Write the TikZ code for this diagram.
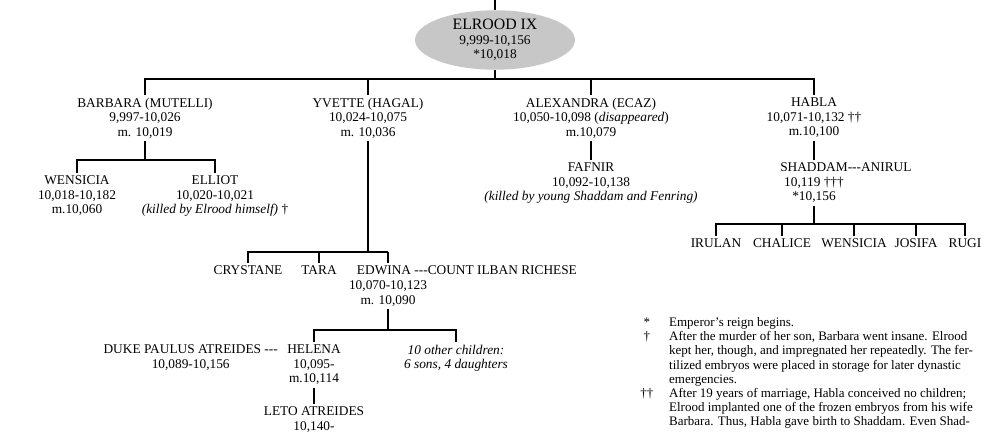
\documentclass[tikz,border=0pt]{standalone}
\usepackage{fontspec}
\setmainfont{Liberation Serif}
\usepackage{tikz}
\usetikzlibrary{shapes.geometric, positioning, calc}

\begin{document}
\begin{tikzpicture}[x=0.02cm, y=-0.02cm,
  person/.style={align=center, anchor=north, inner sep=1.5pt, font=\fontsize{7.6}{8.25}\selectfont},
  emperor/.style={ellipse, fill=black!22, align=center, minimum width=3.2cm, minimum height=1.1cm, inner sep=0pt, font=\fontsize{7.6}{8.4}\selectfont},
  bond/.style={line width=1.6pt},
  link/.style={line width=0.8pt}
]
  \path[use as bounding box, fill=white] (0,0) rectangle (984,445);

  % emperor
  \coordinate (crown) at (495,0);
  \node[emperor] (elrood) at (495,40) {{\fontsize{9}{9}\selectfont ELROOD IX}\\9,999-10,156\\*10,018};
  \draw[bond] (crown) -- (elrood);

  % wives
  \node[person] (barbara) at (145,95) {BARBARA (MUTELLI)\\9,997-10,026\\m. 10,019};
  \node[person] (yvette) at (368,95) {YVETTE (HAGAL)\\10,024-10,075\\m. 10,036};
  \node[person] (alexandra) at (591,95) {ALEXANDRA (ECAZ)\\10,050-10,098 (\textit{disappeared})\\m.10,079};
  \node[person] (habla) at (814,95) {HABLA\\10,071-10,132 \textdagger\textdagger\\m.10,100};
  \coordinate (rowA) at (0,79);
  \draw[bond] (elrood) -- (elrood |- rowA);
  \draw[bond] (barbara.north) |- (habla.north |- rowA) -- (habla.north);
  \draw[bond] (yvette.north) -- (yvette.north |- rowA);
  \draw[link] (alexandra.north) -- (alexandra.north |- rowA);

  % Barbara
  \node[person] (wensicia) at (77,173) {WENSICIA\\10,018-10,182\\m.10,060};
  \node[person] (elliot) at (215,173) {ELLIOT\\10,020-10,021\\\textit{(killed by Elrood himself)} \textdagger};
  \coordinate (rowB) at (0,160);
  \draw[bond] (barbara) -- (barbara |- rowB);
  \draw[bond] (wensicia.north) |- (elliot.north |- rowB) -- (elliot.north);

  % Yvette
  \node[person] (crystane) at (248,263) {CRYSTANE};
  \node[person] (tara) at (319,263) {TARA};
  \node[person, anchor=north west] (edwina) at (354,263) {EDWINA -{}-{}-COUNT ILBAN RICHESE};
  \node[person] (edwinadates) at (388,278) {10,070-10,123\\m. 10,090};
  \coordinate (rowC) at (0,252);
  \draw[link] (yvette) -- (yvette |- rowC);
  \draw[bond] (crystane.north) |- (edwinadates.north |- rowC);
  \draw[link] (tara.north) -- (tara.north |- rowC);
  \draw[link] (edwinadates.north |- rowC) -- (edwinadates.north |- edwina.north);

  % Edwina
  \node[person] (helena) at (314,342) {HELENA\\10,095-\\m.10,114};
  \node[person, left=2pt of helena.north west, anchor=north east] (paulus) {DUKE PAULUS ATREIDES -{}-{}-\\10,089-10,156};
  \node[person, font=\fontsize{7.6}{8.25}\selectfont\itshape] (others) at (456,342) {10 other children:\\6 sons, 4 daughters};
  \coordinate (rowD) at (0,330);
  \draw[bond] (edwinadates) -- (edwinadates |- rowD);
  \draw[bond] (helena.north) |- (others.north |- rowD) -- (others.north);
  \node[person, below=0.32cm of helena] (leto) {LETO ATREIDES\\10,140-};
  \draw[bond] (helena) -- (leto);

  % Alexandra
  \node[person] (fafnir) at (591,160) {FAFNIR\\10,092-10,138\\\textit{(killed by young Shaddam and Fenring)}};
  \draw[bond] (alexandra) -- (fafnir);

  % Habla
  \node[person] (shaddam) at (814,160) {SHADDAM\rlap{-{}-{}-ANIRUL}\\10,119 \textdagger\textdagger\textdagger\\*10,156};
  \draw[bond] (habla) -- (shaddam);
  \node[person] (irulan) at (716,236) {IRULAN};
  \node[person] (chalice) at (782,236) {CHALICE};
  \node[person] (wensicia2) at (854,236) {WENSICIA};
  \node[person] (josifa) at (916,236) {JOSIFA};
  \node[person] (rugi) at (965,236) {RUGI};
  \coordinate (rowE) at (0,224);
  \draw[bond] (shaddam) -- (shaddam |- rowE);
  \draw[bond] (irulan.north) |- (rugi.north |- rowE) -- (rugi.north);
  \draw[bond] (chalice.north) -- (chalice.north |- rowE);
  \draw[bond] (wensicia2.north) -- (wensicia2.north |- rowE);
  \draw[bond] (josifa.north) -- (josifa.north |- rowE);

  % notes
  \node[anchor=north west, inner sep=0pt, font=\fontsize{7.4}{8.1}\selectfont] (notes) at (640,316) {%
    \begin{tabular}{@{}c@{\hspace{9pt}}l@{}}
      * & Emperor's reign begins.\\
      \textdagger & After the murder of her son, Barbara went insane. Elrood\\
       & kept her, though, and impregnated her repeatedly. The fer-\\
       & tilized embryos were placed in storage for later dynastic\\
       & emergencies.\\
      \textdagger\textdagger & After 19 years of marriage, Habla conceived no children;\\
       & Elrood implanted one of the frozen embryos from his wife\\
       & Barbara. Thus, Habla gave birth to Shaddam. Even Shad-
    \end{tabular}};
\end{tikzpicture}
\end{document}
